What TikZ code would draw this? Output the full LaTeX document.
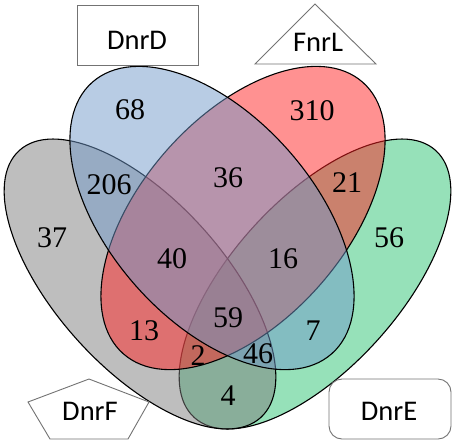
\documentclass[tikz,border=0pt]{standalone}
\usepackage{fontspec}
\setmainfont{Liberation Serif}
\newfontfamily\lblfont{Carlito}
\definecolor{vgray}{RGB}{125,125,125}
\definecolor{vblue}{RGB}{113,153,201}
\definecolor{vred}{RGB}{255,35,35}
\definecolor{vgreen}{RGB}{45,195,115}
\tikzset{
	venn/.style={draw=black,line width=1.1pt,fill opacity=0.5},
	num/.style={font=\fontsize{30}{32}\selectfont,inner sep=0pt},
	tag/.style={font=\lblfont\fontsize{28.5}{30}\selectfont,inner sep=0pt},
	frame/.style={draw=black!55,line width=0.9pt,fill=white}
}
\begin{document}
\begin{tikzpicture}[x=1pt,y=1pt]
            \useasboundingbox (0,0) rectangle (454,-445);
            \draw[venn,fill=vgreen,rotate around={47.9:(315,-284)}] (315,-284) ellipse (180 and 84);
            \draw[venn,fill=vgray,rotate around={-47.9:(140,-284)}] (140,-284) ellipse (180 and 84);
            \draw[venn,fill=vred,rotate around={48.6:(243,-218)}] (243,-218) ellipse (181 and 102);
            \draw[venn,fill=vblue,rotate around={-48.6:(212,-218)}] (212,-218) ellipse (181 and 102);
            \draw[frame] (77,-5) rectangle (198,-65);
            \draw[frame] (315,-4) -- (376,-64) -- (255,-64) -- cycle;
            \draw[frame] (89,-379) -- (149,-402) -- (128,-439) -- (50,-439) -- (28,-402) -- cycle;
            \draw[frame,rounded corners=13pt] (329,-379) rectangle (451,-439);
            \node[tag] (dnrd) at (137,-40) {DnrD};
            \node[tag] (fnrl) at (318,-42) {FnrL};
            \node[tag] (dnrf) at (90,-411) {DnrF};
            \node[tag] (dnre) at (389,-411) {DnrE};
            \node[num] (n68) at (130,-110) {68};
            \node[num] (n310) at (312,-111) {310};
            \node[num] (n206) at (109,-185) {206};
            \node[num] (n36) at (228,-178) {36};
            \node[num] (n21) at (347,-183) {21};
            \node[num] (n37) at (52,-238) {37};
            \node[num] (n56) at (389,-238) {56};
            \node[num] (n40) at (172,-259) {40};
            \node[num] (n16) at (283,-259) {16};
            \node[num] (n59) at (228,-318) {59};
            \node[num] (n13) at (144,-331) {13};
            \node[num] (n7) at (313,-331) {7};
            \node[num] (n2) at (198,-356) {2};
            \node[num] (n46) at (258,-354) {46};
            \node[num] (n4) at (228,-396) {4};
        \end{tikzpicture}
\end{document}
